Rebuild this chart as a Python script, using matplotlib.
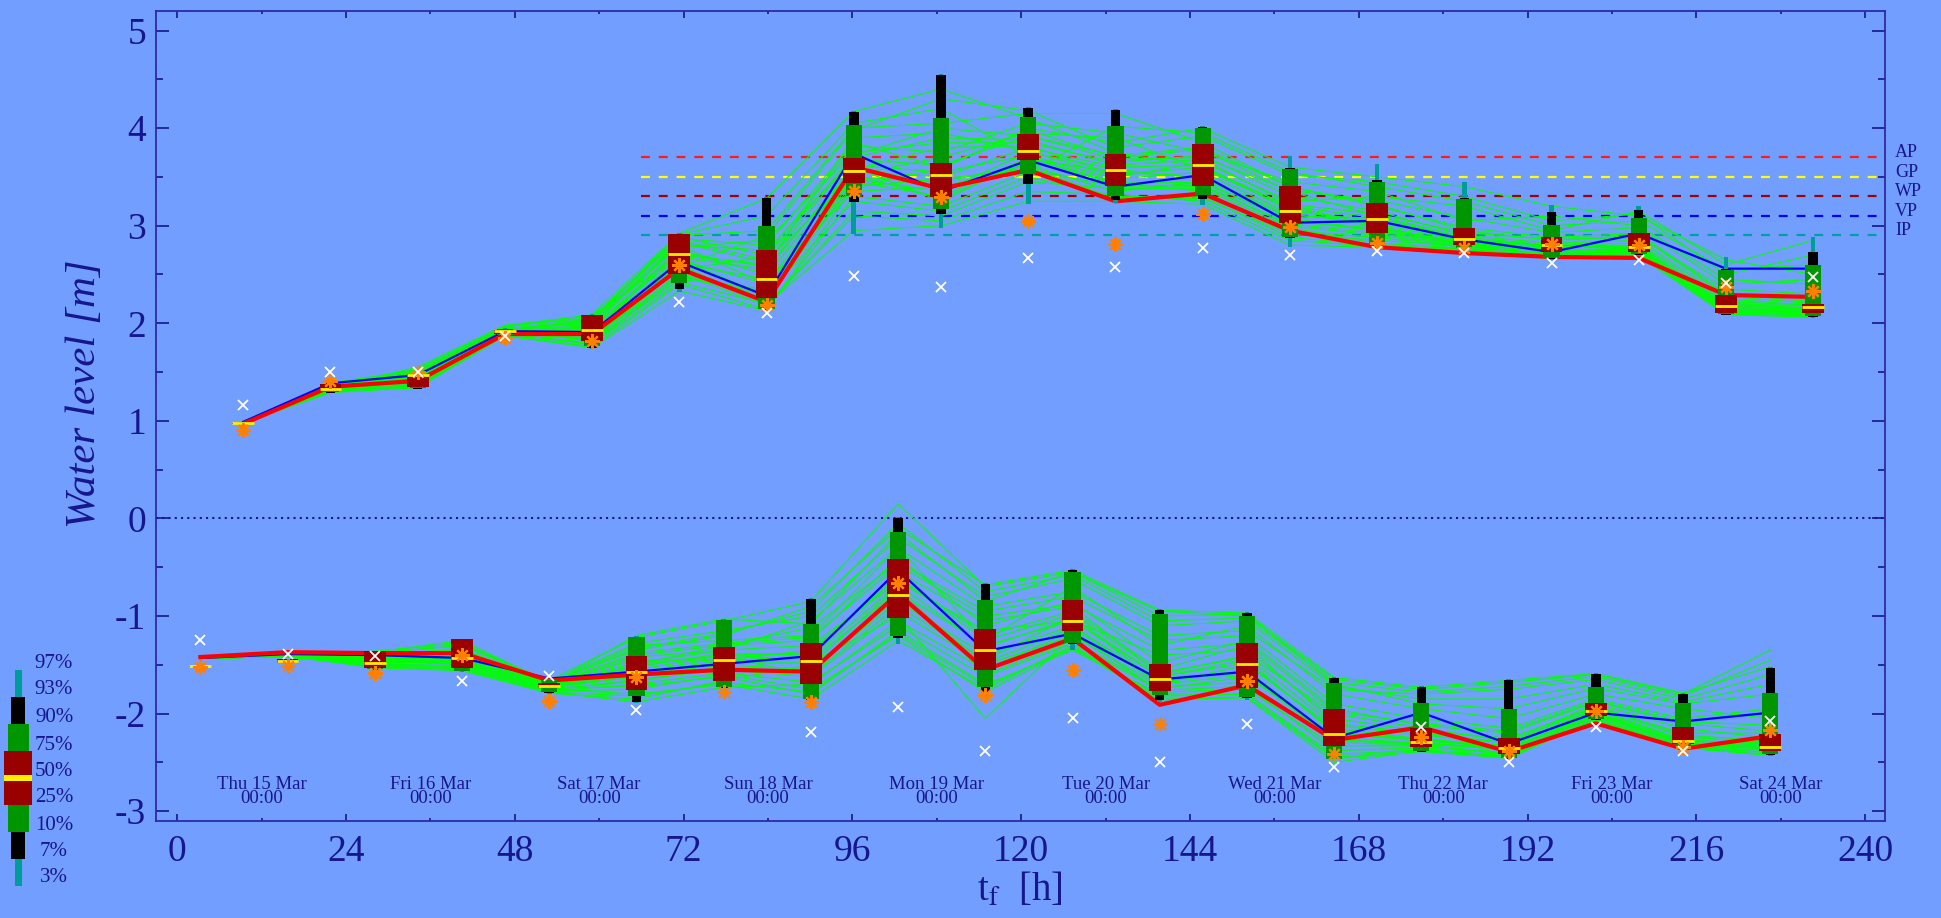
import numpy as np
import matplotlib.pyplot as plt
from matplotlib import transforms

plt.rcParams['font.family'] = ['Liberation Serif', 'DejaVu Serif']
plt.rcParams['mathtext.fontset'] = 'stix'
plt.rcParams['axes.unicode_minus'] = False

# ---- forecast times [h] ----
t_top = [9.4, 21.8, 34.2, 46.6, 59.0, 71.4, 83.8, 96.2, 108.6, 121.0,
         133.4, 145.8, 158.2, 170.6, 183.0, 195.4, 207.8, 220.2, 232.6]
t_bot = [3.3, 15.7, 28.1, 40.5, 52.9, 65.3, 77.7, 90.1, 102.5, 114.9,
         127.3, 139.7, 152.1, 164.5, 176.9, 189.3, 201.7, 214.1, 226.5]

# ---- ensemble percentiles, upper panel (max) ----
top_p03 = [0.96, 1.29, 1.33, 1.87, 1.74, 2.32, 2.12, 2.92, 2.98, 3.22, 3.23, 3.21, 2.78, 2.78, 2.76, 2.65, 2.69, 2.08, 2.05]
top_p07 = [0.96, 1.29, 1.33, 1.87, 1.75, 2.35, 2.14, 3.24, 3.12, 3.43, 3.26, 3.27, 2.87, 2.79, 2.76, 2.66, 2.70, 2.09, 2.06]
top_p10 = [0.97, 1.30, 1.34, 1.88, 1.77, 2.41, 2.15, 3.30, 3.17, 3.53, 3.30, 3.31, 2.88, 2.80, 2.77, 2.67, 2.71, 2.10, 2.07]
top_p25 = [0.97, 1.31, 1.35, 1.89, 1.82, 2.50, 2.26, 3.44, 3.29, 3.67, 3.41, 3.41, 3.03, 2.93, 2.80, 2.73, 2.73, 2.11, 2.11]
top_p50 = [0.975, 1.33, 1.475, 1.92, 1.93, 2.71, 2.45, 3.56, 3.52, 3.77, 3.57, 3.62, 3.15, 3.07, 2.86, 2.80, 2.78, 2.18, 2.17]
top_p75 = [0.98, 1.38, 1.48, 1.93, 2.08, 2.91, 2.75, 3.69, 3.64, 3.94, 3.73, 3.84, 3.41, 3.23, 2.98, 2.88, 2.93, 2.29, 2.20]
top_p90 = [0.98, 1.38, 1.48, 1.94, 2.09, 2.92, 3.00, 4.03, 4.10, 4.11, 4.02, 4.00, 3.58, 3.45, 3.27, 3.01, 3.08, 2.55, 2.60]
top_p93 = [0.985, 1.39, 1.49, 1.94, 2.09, 2.92, 3.28, 4.17, 4.54, 4.21, 4.19, 4.01, 3.59, 3.47, 3.28, 3.14, 3.16, 2.56, 2.73]
top_p97 = [0.985, 1.39, 1.49, 1.95, 2.10, 2.93, 3.29, 4.18, 4.55, 4.22, 4.20, 4.02, 3.71, 3.63, 3.45, 3.21, 3.20, 2.68, 2.88]

top_mean = [0.99, 1.385, 1.47, 1.92, 1.91, 2.63, 2.28, 3.74, 3.35, 3.67, 3.40, 3.52, 3.03, 3.05, 2.86, 2.73, 2.92, 2.56, 2.56]
top_det = [0.97, 1.35, 1.41, 1.89, 1.89, 2.56, 2.22, 3.60, 3.38, 3.57, 3.25, 3.33, 2.95, 2.78, 2.72, 2.68, 2.67, 2.29, 2.27]
top_obs = [0.91, 1.41, 1.50, 1.85, 1.82, 2.60, 2.19, 3.36, 3.29, 3.05, 2.81, 3.12, 2.99, 2.82, 2.77, 2.81, 2.80, 2.37, 2.33]
top_ast = [1.16, 1.50, 1.50, 1.87, np.nan, 2.22, 2.11, 2.48, 2.37, 2.67, 2.58, 2.77, 2.70, 2.74, 2.72, 2.62, 2.65, 2.41, 2.47]

# ---- ensemble percentiles, lower panel (min) ----
bot_p03 = [-1.53, -1.48, -1.55, -1.57, -1.80, -1.89, -1.74, -1.86, -1.29, -1.79, -1.35, -1.88, -1.86, -2.47, -2.39, -2.46, -2.07, -2.35, -2.43]
bot_p07 = [-1.53, -1.48, -1.55, -1.56, -1.79, -1.88, -1.74, -1.86, -1.23, -1.78, -1.29, -1.86, -1.84, -2.47, -2.39, -2.46, -2.07, -2.35, -2.42]
bot_p10 = [-1.53, -1.48, -1.54, -1.56, -1.78, -1.82, -1.73, -1.85, -1.20, -1.73, -1.28, -1.81, -1.83, -2.46, -2.38, -2.45, -2.06, -2.34, -2.41]
bot_p25 = [-1.52, -1.48, -1.53, -1.53, -1.74, -1.76, -1.67, -1.70, -1.02, -1.55, -1.15, -1.77, -1.74, -2.33, -2.34, -2.41, -2.02, -2.31, -2.38]
bot_p50 = [-1.515, -1.46, -1.48, -1.43, -1.72, -1.57, -1.45, -1.46, -0.78, -1.35, -1.05, -1.65, -1.49, -2.21, -2.29, -2.35, -1.97, -2.28, -2.34]
bot_p75 = [-1.51, -1.445, -1.36, -1.24, -1.69, -1.41, -1.32, -1.28, -0.42, -1.13, -0.84, -1.49, -1.28, -1.95, -2.15, -2.25, -1.89, -2.14, -2.21]
bot_p90 = [-1.51, -1.445, -1.36, -1.24, -1.66, -1.21, -1.04, -1.08, -0.14, -0.84, -0.55, -0.98, -1.00, -1.69, -1.89, -1.95, -1.73, -1.89, -1.79]
bot_p93 = [-1.51, -1.445, -1.36, -1.24, -1.66, -1.21, -1.04, -0.83, 0.00, -0.67, -0.53, -0.94, -0.97, -1.63, -1.73, -1.66, -1.59, -1.80, -1.53]
bot_p97 = [-1.51, -1.445, -1.36, -1.24, -1.65, -1.20, -1.03, -0.82, 0.01, -0.66, -0.52, -0.93, -0.96, -1.62, -1.72, -1.65, -1.58, -1.79, -1.52]

bot_mean = [-1.43, -1.39, -1.40, -1.43, -1.64, -1.57, -1.49, -1.41, -0.53, -1.36, -1.18, -1.65, -1.57, -2.25, -1.99, -2.31, -1.99, -2.08, -1.99]
bot_det = [-1.42, -1.37, -1.38, -1.38, -1.66, -1.60, -1.55, -1.57, -0.77, -1.55, -1.23, -1.91, -1.71, -2.27, -2.14, -2.39, -2.10, -2.36, -2.23]
bot_obs = [-1.52, -1.51, -1.58, -1.40, -1.87, -1.62, -1.78, -1.88, -0.66, -1.81, -1.55, -2.11, -1.67, -2.41, -2.24, -2.38, -1.97, -2.34, -2.17]
bot_ast = [-1.25, -1.39, -1.41, -1.67, -1.61, -1.96, np.nan, -2.19, -1.93, -2.38, -2.04, -2.50, -2.11, -2.55, -2.14, -2.50, -2.14, -2.38, -2.08]

top_members = [
    [0.98, 1.39, 1.52, 1.96, 2.09, 2.92, 3.28, 4.17, 4.40, 4.10, 3.75, 3.60, 3.20, 3.00, 2.80, 2.70, 2.75, 2.15, 2.10],
    [0.98, 1.30, 1.35, 1.88, 1.76, 2.40, 2.14, 3.30, 3.20, 3.55, 4.02, 3.95, 3.55, 3.40, 3.25, 3.00, 3.05, 2.55, 2.60],
    [0.98, 1.35, 1.48, 1.93, 1.95, 2.75, 2.50, 3.56, 3.50, 3.80, 3.60, 3.62, 3.15, 3.05, 2.85, 2.80, 2.78, 2.20, 2.18],
    [0.98, 1.33, 1.40, 1.90, 1.85, 2.55, 2.25, 3.45, 3.30, 3.70, 3.42, 3.40, 3.02, 2.92, 2.80, 2.74, 2.72, 2.12, 2.10],
    [0.98, 1.38, 1.49, 1.94, 2.05, 2.90, 2.95, 4.00, 4.05, 4.15, 4.15, 3.85, 3.40, 3.20, 2.98, 2.88, 2.92, 2.30, 2.22],
    [0.98, 1.31, 1.45, 1.89, 1.80, 2.48, 2.30, 3.25, 3.15, 3.50, 3.30, 3.30, 2.88, 2.80, 2.76, 2.67, 2.70, 2.09, 2.06],
    [0.98, 1.37, 1.47, 1.92, 1.98, 2.80, 2.75, 3.68, 3.62, 3.92, 3.72, 3.80, 3.40, 3.22, 2.95, 2.85, 2.90, 2.28, 2.20],
    [0.98, 1.32, 1.36, 1.88, 1.90, 2.65, 2.40, 3.60, 3.25, 3.68, 3.55, 3.50, 3.10, 3.08, 2.87, 2.79, 2.76, 2.16, 2.15],
    [0.98, 1.34, 1.55, 1.98, 2.08, 2.70, 2.60, 3.90, 3.95, 3.77, 3.50, 3.65, 3.25, 3.30, 3.20, 2.95, 3.15, 2.60, 2.85],
    [0.98, 1.36, 1.42, 1.91, 1.92, 2.60, 2.20, 2.95, 3.00, 3.25, 3.25, 3.22, 2.80, 2.78, 2.77, 2.66, 2.70, 2.10, 2.07],
    [0.98, 1.39, 1.50, 1.95, 2.00, 2.85, 2.65, 3.50, 3.45, 3.62, 3.35, 3.45, 3.05, 2.95, 2.82, 2.76, 2.74, 2.14, 2.12],
    [0.98, 1.29, 1.34, 1.87, 1.75, 2.33, 2.13, 3.40, 3.58, 4.00, 3.85, 4.00, 3.60, 3.50, 3.40, 3.20, 3.10, 2.65, 2.50],
    [0.98, 1.33, 1.43, 1.90, 1.88, 2.78, 2.85, 3.75, 3.85, 3.85, 3.65, 3.72, 3.30, 3.15, 2.90, 2.82, 2.85, 2.25, 2.18],
    [0.98, 1.35, 1.46, 1.93, 1.82, 2.45, 2.35, 3.52, 3.70, 3.95, 3.90, 3.58, 3.18, 2.98, 2.83, 2.78, 2.80, 2.18, 2.15],
    [0.98, 1.38, 1.48, 1.92, 2.02, 2.91, 3.10, 4.05, 4.20, 3.70, 3.45, 3.35, 2.95, 2.88, 2.78, 2.72, 2.73, 2.11, 2.09],
    [0.98, 1.31, 1.40, 1.89, 1.95, 2.62, 2.45, 3.35, 3.40, 3.60, 3.28, 3.28, 2.92, 2.85, 2.79, 2.70, 2.71, 2.13, 2.11],
    [0.98, 1.37, 1.53, 1.97, 2.06, 2.88, 2.70, 3.82, 3.75, 4.05, 3.95, 3.75, 3.45, 3.35, 3.05, 3.10, 3.00, 2.45, 2.40],
    [0.98, 1.32, 1.38, 1.90, 1.78, 2.52, 2.18, 3.15, 3.10, 3.45, 3.38, 3.38, 2.98, 2.82, 2.77, 2.69, 2.72, 2.12, 2.08],
    [0.98, 1.36, 1.44, 1.91, 1.97, 2.68, 2.55, 3.62, 3.55, 3.72, 3.48, 3.55, 3.12, 3.02, 2.84, 2.78, 2.77, 2.17, 2.14],
    [0.98, 1.34, 1.47, 1.93, 1.86, 2.58, 2.90, 3.98, 4.30, 4.18, 3.80, 3.92, 3.52, 3.45, 3.30, 3.05, 3.12, 2.50, 2.70],
    [0.98, 1.36, 1.51, 1.95, 1.99, 2.83, 2.62, 3.70, 3.90, 3.88, 3.62, 3.68, 3.22, 3.12, 2.93, 2.86, 2.88, 2.35, 2.30],
    [0.98, 1.30, 1.37, 1.89, 1.79, 2.42, 2.20, 3.10, 3.05, 3.35, 3.32, 3.25, 2.85, 2.79, 2.76, 2.66, 2.69, 2.09, 2.07],
    [0.98, 1.38, 1.46, 1.92, 2.04, 2.87, 2.80, 3.85, 3.60, 3.98, 3.70, 3.78, 3.35, 3.10, 2.88, 2.80, 2.82, 2.22, 2.19],
    [0.98, 1.33, 1.44, 1.91, 1.84, 2.50, 2.32, 3.48, 3.35, 3.75, 3.58, 3.48, 3.08, 2.94, 2.81, 2.75, 2.75, 2.14, 2.12],
    [0.98, 1.35, 1.50, 1.94, 1.93, 2.72, 2.58, 3.58, 3.80, 3.82, 3.52, 3.60, 3.20, 3.08, 2.86, 2.79, 2.79, 2.19, 2.16],
    [0.98, 1.37, 1.45, 1.92, 2.03, 2.80, 2.40, 3.40, 3.48, 3.58, 3.40, 3.42, 3.00, 2.90, 2.79, 2.71, 2.74, 2.13, 2.10],
    [0.98, 1.31, 1.41, 1.90, 1.83, 2.55, 2.68, 3.72, 4.00, 3.92, 3.68, 3.70, 3.36, 3.26, 3.08, 2.93, 2.98, 2.40, 2.45],
    [0.98, 1.34, 1.43, 1.90, 1.89, 2.66, 2.28, 3.52, 3.28, 3.65, 3.45, 3.44, 3.06, 2.97, 2.82, 2.75, 2.76, 2.15, 2.13],
]
bot_members = [
    [-1.43, -1.40, -1.38, -1.30, -1.66, -1.22, -1.05, -0.85, 0.15, -0.70, -0.55, -0.95, -1.00, -1.65, -1.75, -1.68, -1.60, -1.80, -1.35],
    [-1.43, -1.41, -1.45, -1.50, -1.75, -1.80, -1.70, -1.85, -1.25, -1.75, -1.30, -1.85, -1.84, -2.50, -2.38, -2.46, -2.05, -2.35, -2.42],
    [-1.43, -1.42, -1.48, -1.45, -1.72, -1.55, -1.40, -1.45, -0.75, -1.30, -1.05, -1.62, -1.45, -2.20, -2.28, -2.34, -1.96, -2.27, -2.33],
    [-1.43, -1.40, -1.37, -1.25, -1.69, -1.40, -1.30, -1.25, -0.40, -1.10, -0.85, -1.48, -1.25, -1.95, -2.12, -2.20, -1.88, -2.10, -2.18],
    [-1.43, -1.41, -1.52, -1.55, -1.78, -1.88, -1.73, -1.70, -1.05, -1.55, -1.15, -1.78, -1.75, -2.33, -2.33, -2.40, -2.02, -2.31, -2.37],
    [-1.43, -1.40, -1.40, -1.35, -1.70, -1.20, -1.03, -1.08, -0.15, -0.85, -0.55, -1.00, -0.98, -1.70, -1.90, -1.95, -1.74, -1.90, -1.80],
    [-1.43, -1.42, -1.50, -1.52, -1.76, -1.65, -1.55, -1.62, -0.95, -1.50, -1.20, -1.72, -1.68, -2.30, -2.32, -2.42, -2.00, -2.30, -2.36],
    [-1.43, -1.41, -1.42, -1.40, -1.72, -1.50, -1.30, -1.12, -0.45, -0.95, -0.80, -1.25, -1.20, -1.90, -2.05, -2.15, -1.85, -2.05, -1.95],
    [-1.43, -1.40, -1.47, -1.48, -1.74, -1.72, -1.62, -1.80, -1.15, -1.70, -1.35, -1.80, -1.80, -2.45, -2.37, -2.44, -2.06, -2.34, -2.40],
    [-1.43, -1.41, -1.39, -1.38, -1.68, -1.45, -1.45, -1.35, -0.60, -1.20, -0.95, -1.55, -1.30, -2.10, -2.20, -2.30, -1.92, -2.22, -2.28],
    [-1.43, -1.42, -1.44, -1.42, -1.73, -1.60, -1.50, -1.55, -0.85, -1.40, -1.10, -1.68, -1.55, -2.25, -2.30, -2.36, -1.98, -2.29, -2.34],
    [-1.43, -1.40, -1.36, -1.28, -1.67, -1.35, -1.20, -0.90, -0.10, -0.68, -0.53, -0.94, -0.97, -1.63, -1.73, -1.66, -1.59, -1.79, -1.52],
    [-1.43, -1.41, -1.53, -1.56, -1.79, -1.85, -1.66, -1.50, -0.70, -1.60, -1.25, -1.75, -1.62, -2.22, -2.25, -2.38, -1.99, -2.32, -2.35],
    [-1.43, -1.42, -1.46, -1.46, -1.71, -1.52, -1.38, -1.40, -0.55, -1.05, -0.90, -1.60, -1.40, -2.00, -2.15, -2.28, -1.90, -2.15, -2.25],
    [-1.43, -1.40, -1.41, -1.33, -1.70, -1.30, -1.25, -1.20, -0.30, -1.25, -0.70, -1.30, -1.10, -1.80, -1.95, -2.05, -1.80, -1.95, -2.05],
    [-1.43, -1.41, -1.49, -1.51, -1.77, -1.75, -1.60, -1.75, -1.20, -1.78, -1.33, -1.86, -1.83, -2.46, -2.39, -2.45, -2.07, -2.35, -2.43],
    [-1.43, -1.42, -1.43, -1.44, -1.72, -1.58, -1.42, -1.60, -0.90, -1.45, -1.00, -1.70, -1.50, -2.15, -2.26, -2.33, -1.95, -2.28, -2.30],
    [-1.43, -1.40, -1.39, -1.36, -1.69, -1.48, -1.35, -1.30, -0.65, -1.15, -1.05, -1.40, -1.35, -2.05, -2.18, -2.25, -1.94, -2.20, -2.20],
    [-1.43, -1.41, -1.45, -1.47, -1.74, -1.62, -1.48, -1.48, -1.00, -2.05, -1.20, -1.64, -1.58, -2.28, -2.31, -2.37, -2.01, -2.31, -2.36],
    [-1.43, -1.42, -1.41, -1.39, -1.71, -1.42, -1.35, -1.05, -0.30, -0.90, -0.75, -1.20, -1.15, -1.75, -1.80, -1.75, -1.65, -1.85, -1.60],
    [-1.43, -1.41, -1.44, -1.41, -1.71, -1.50, -1.40, -1.38, -0.60, -1.25, -0.98, -1.58, -1.42, -2.12, -2.22, -2.30, -1.93, -2.24, -2.29],
    [-1.43, -1.40, -1.38, -1.30, -1.68, -1.28, -1.15, -1.00, -0.20, -0.80, -0.62, -1.10, -1.05, -1.72, -1.85, -1.85, -1.70, -1.88, -1.70],
    [-1.43, -1.42, -1.50, -1.53, -1.77, -1.70, -1.58, -1.68, -1.10, -1.62, -1.28, -1.76, -1.72, -2.38, -2.35, -2.41, -2.03, -2.33, -2.38],
    [-1.43, -1.41, -1.42, -1.38, -1.70, -1.38, -1.28, -1.22, -0.48, -1.00, -0.88, -1.35, -1.28, -1.98, -2.10, -2.18, -1.87, -2.08, -2.12],
    [-1.43, -1.40, -1.46, -1.49, -1.75, -1.67, -1.52, -1.58, -0.80, -1.48, -1.12, -1.70, -1.60, -2.27, -2.30, -2.36, -1.99, -2.30, -2.34],
    [-1.43, -1.41, -1.40, -1.34, -1.69, -1.33, -1.18, -0.95, -0.05, -0.75, -0.58, -1.05, -1.02, -1.68, -1.78, -1.72, -1.62, -1.82, -1.45],
    [-1.43, -1.42, -1.47, -1.47, -1.73, -1.60, -1.45, -1.42, -0.68, -1.32, -1.02, -1.62, -1.48, -2.18, -2.27, -2.33, -1.96, -2.27, -2.31],
    [-1.43, -1.40, -1.51, -1.54, -1.78, -1.82, -1.68, -1.78, -1.18, -1.72, -1.32, -1.82, -1.80, -2.42, -2.37, -2.43, -2.05, -2.34, -2.40],
]

# ---- alert thresholds [m] ----
thr_names = ['AP', 'GP', 'WP', 'VP', 'IP']
thr_levels = [3.7, 3.5, 3.3, 3.1, 2.9]
thr_colors = ['#ff1a1a', '#ffff00', '#a00000', '#0000ff', '#00a0a0']

days = ['Thu 15 Mar', 'Fri 16 Mar', 'Sat 17 Mar', 'Sun 18 Mar', 'Mon 19 Mar',
        'Tue 20 Mar', 'Wed 21 Mar', 'Thu 22 Mar', 'Fri 23 Mar', 'Sat 24 Mar']
day_t = [12, 36, 60, 84, 108, 132, 156, 180, 204, 228]

legend_labels = ['97%', '93%', '90%', '75%', '50%', '25%', '10%', '7%', '3%']

bg = '#729eff'
navy = '#16168f'
teal = '#009c9c'
dgreen = '#009600'
dred = '#990000'
yel = '#ffee00'

fig = plt.figure(figsize=(19.41, 9.18), dpi=100, facecolor=bg)
ax = fig.add_axes([0.0804, 0.1057, 0.8907, 0.8823])
ax.set_facecolor(bg)


def draw_panel(t, members, pcts, mean, det, obs, ast):
    p03, p07, p10, p25, p50, p75, p90, p93, p97 = [np.array(p) for p in pcts]
    t = np.array(t)
    for m in members:
        ax.plot(t, m, color='#00ff00', lw=0.75, zorder=2)
    ax.plot(t, mean, color='#0000ff', lw=1.6, zorder=3)
    ax.plot(t, det, color='#ff0000', lw=3.0, zorder=4)
    ax.bar(t, p97 - p03, bottom=p03, width=0.65, color=teal, zorder=5)
    ax.bar(t, p93 - p07, bottom=p07, width=1.35, color='black', zorder=5)
    ax.bar(t, p90 - p10, bottom=p10, width=2.3, color=dgreen, zorder=5)
    ax.bar(t, p75 - p25, bottom=p25, width=3.1, color=dred, zorder=5)
    ax.hlines(p50, t - 1.55, t + 1.55, color=yel, lw=2.0, zorder=6)
    ax.plot(t, obs, ls='none', marker=(8, 2, 0), ms=10.5, mew=1.6,
            color='#ff8000', zorder=7)
    ax.plot(t, ast, ls='none', marker='x', ms=6.5, mew=1.3,
            color='white', zorder=8)


# threshold lines
ax.hlines(thr_levels, 66, 243, colors=thr_colors, lw=1.6,
          linestyles=(0, (4, 4)), zorder=1)
ytr = transforms.blended_transform_factory(ax.transAxes, ax.transData)
for name, lv in zip(thr_names, thr_levels):
    ax.text(1.0058, lv + 0.05, name, transform=ytr, ha='left', va='center',
            fontsize=13, color=navy, clip_on=False)

ax.axhline(0, color=navy, lw=1.5, ls=(0, (1, 2)), zorder=1)

draw_panel(t_top, top_members,
           [top_p03, top_p07, top_p10, top_p25, top_p50, top_p75, top_p90, top_p93, top_p97],
           top_mean, top_det, top_obs, top_ast)
draw_panel(t_bot, bot_members,
           [bot_p03, bot_p07, bot_p10, bot_p25, bot_p50, bot_p75, bot_p90, bot_p93, bot_p97],
           bot_mean, bot_det, bot_obs, bot_ast)

for d, td in zip(days, day_t):
    ax.text(td, -2.80, d + '\n00:00', ha='center', va='center', fontsize=13.5,
            color=navy, linespacing=0.75, zorder=9)

ax.set_xlim(-3, 242.8)
ax.set_ylim(-3.1, 5.2)
ax.set_xticks(np.arange(0, 241, 24))
ax.set_xticks(np.arange(0, 241, 12), minor=True)
ax.set_yticks(np.arange(-3, 6, 1))
ax.set_yticks(np.arange(-3, 5.1, 0.5), minor=True)
ax.tick_params(which='both', direction='in', top=True, right=True,
               colors=navy, labelcolor=navy, labelsize=27, width=1.2)
ax.tick_params(axis='y', which='major', length=9.5, pad=7)
ax.tick_params(axis='y', which='minor', length=5)
ax.tick_params(axis='x', which='major', length=5, pad=10)
ax.tick_params(axis='x', which='minor', length=2.5)
for s in ax.spines.values():
    s.set_color('#2a2aaa')
    s.set_linewidth(1.3)

ax.set_ylabel('Water level [m]', fontsize=31, color=navy, style='italic')
ax.yaxis.set_label_coords(-0.030, 0.527)
ax.set_xlabel(r't$_{\mathrm{f}}$  [h]', fontsize=28, color=navy, labelpad=2)

# percentile legend at lower left, drawn in figure pixels
lg = fig.add_axes([0, 0, 1, 1])
lg.set_xlim(0, 1941)
lg.set_ylim(918, 0)
lg.axis('off')
lg.patch.set_alpha(0)
lg.bar(18, 216, bottom=670, width=7, color=teal)
lg.bar(18, 162, bottom=697, width=14, color='black')
lg.bar(18, 108, bottom=724, width=21, color=dgreen)
lg.bar(18, 54, bottom=751, width=28, color=dred)
lg.bar(18, 6, bottom=775, width=28, color=yel)
leg_y = [663, 690, 718, 745, 772, 798, 825, 852, 878]
for lab, yy in zip(legend_labels, leg_y):
    lg.text(54, yy, lab, ha='center', va='center', fontsize=15, color=navy)

fig.savefig('out.png', dpi=100, facecolor=bg)
